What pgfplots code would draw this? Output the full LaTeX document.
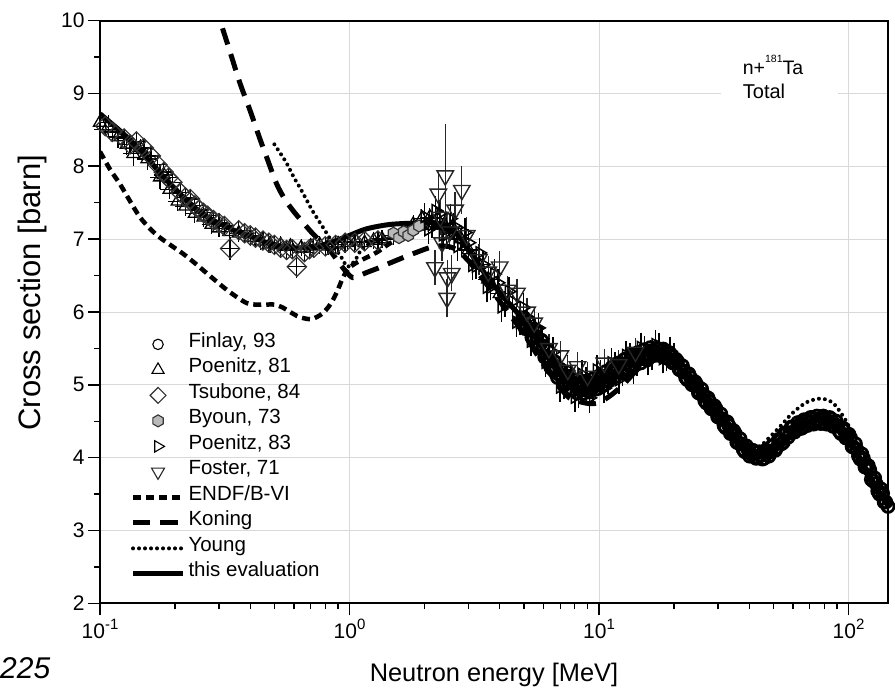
\documentclass[border=0pt]{standalone}
\usepackage{fontspec}
\setmainfont{Liberation Sans}
\usepackage{pgfplots}
\usepackage{pgfplotstable}
\pgfplotsset{compat=1.18}

\newcommand{\tsup}[1]{\raisebox{9pt}{\fontsize{15}{15}\selectfont #1}}
\newcommand{\asup}[1]{\raisebox{12pt}{\fontsize{10.5}{11}\selectfont #1}}

\pgfdeclareplotmark{hexagon}{%
  \pgfpathmoveto{\pgfpointpolar{90}{\pgfplotmarksize}}%
  \pgfpathlineto{\pgfpointpolar{150}{\pgfplotmarksize}}%
  \pgfpathlineto{\pgfpointpolar{210}{\pgfplotmarksize}}%
  \pgfpathlineto{\pgfpointpolar{270}{\pgfplotmarksize}}%
  \pgfpathlineto{\pgfpointpolar{330}{\pgfplotmarksize}}%
  \pgfpathlineto{\pgfpointpolar{30}{\pgfplotmarksize}}%
  \pgfpathclose\pgfusepathqfillstroke}

\pgfplotsset{legmark/.style={legend image code/.code={\draw[mark repeat=2,mark phase=2,##1,mark size=#1,line width=1.1pt] plot coordinates {(0pt,0pt) (25pt,0pt) (50pt,0pt)};}}}

\pgfplotstableread{
E s
0.100 8.72
0.110 8.60
0.120 8.49
0.130 8.38
0.145 8.22
0.155 8.10
0.165 8.00
0.175 7.90
0.185 7.81
0.200 7.69
0.215 7.58
0.230 7.49
0.250 7.38
0.270 7.30
0.294 7.23
0.320 7.17
0.350 7.11
0.380 7.07
0.420 7.01
0.466 6.95
0.520 6.91
0.600 6.88
0.700 6.89
0.800 6.93
0.900 6.99
1.000 7.05
1.170 7.14
1.450 7.20
1.870 7.22
2.240 7.22
2.500 7.16
2.770 7.02
3.100 6.78
3.600 6.46
4.200 6.18
5.000 5.88
5.800 5.55
6.800 5.19
7.850 4.99
8.700 4.96
10.00 5.04
11.80 5.20
13.60 5.33
16.00 5.43
17.50 5.46
19.00 5.42
21.00 5.24
24.00 5.02
28.60 4.69
33.00 4.41
39.00 4.09
42.00 4.04
45.00 4.02
50.00 4.08
53.00 4.19
57.00 4.30
62.00 4.40
68.00 4.48
74.00 4.51
80.00 4.52
86.00 4.49
92.00 4.42
99.00 4.30
106.0 4.12
114.0 3.93
124.0 3.70
134.0 3.51
144.0 3.33
}\evaltab

\pgfplotstableread{
E s
0.500 8.30
0.530 8.17
0.560 8.04
0.600 7.84
0.632 7.71
0.670 7.55
0.710 7.39
0.760 7.23
0.810 7.08
0.850 6.96
0.890 6.84
0.940 6.72
0.980 6.62
1.050 6.70
1.150 6.90
1.500 7.05
2.000 7.15
2.500 7.12
3.000 6.88
3.600 6.46
4.200 6.18
5.000 5.88
5.800 5.55
6.800 5.19
7.850 5.00
8.700 4.97
10.00 5.04
11.80 5.20
13.60 5.33
16.00 5.43
17.50 5.46
19.00 5.42
21.00 5.24
24.00 5.02
28.60 4.69
33.00 4.41
39.00 4.10
42.00 4.08
44.00 4.14
48.00 4.27
53.00 4.42
59.60 4.61
68.00 4.76
77.50 4.81
86.70 4.75
95.50 4.56
100.0 4.44
106.0 4.22
114.0 3.96
124.0 3.72
134.0 3.52
144.0 3.33
}\youngtab

\pgfplotstableread{
E s
0.100 8.20
0.110 7.95
0.120 7.76
0.132 7.52
0.1446 7.30
0.160 7.13
0.174 7.02
0.195 6.90
0.215 6.80
0.240 6.67
0.268 6.53
0.295 6.41
0.323 6.30
0.355 6.20
0.388 6.12
0.420 6.10
0.460 6.10
0.500 6.10
0.540 6.06
0.577 6.00
0.630 5.93
0.695 5.90
0.740 5.93
0.780 5.98
0.820 6.06
0.860 6.17
0.900 6.31
0.930 6.43
0.965 6.54
1.000 6.61
1.060 6.67
1.130 6.72
1.290 6.82
1.450 6.94
1.700 7.06
2.000 7.15
2.400 7.15
2.800 7.00
3.100 6.78
3.600 6.46
4.200 6.18
5.000 5.88
5.800 5.55
6.800 5.19
7.850 4.99
8.700 4.96
10.00 5.04
11.80 5.20
13.60 5.33
16.00 5.43
17.50 5.46
20.00 5.35
}\endftab

\pgfplotstableread{
E s
0.290 10.25
0.303 10.00
0.330 9.60
0.364 9.14
0.400 8.76
0.437 8.38
0.466 8.12
0.510 7.76
0.550 7.55
0.594 7.39
0.650 7.23
0.710 7.08
0.770 6.96
0.836 6.84
0.910 6.67
0.970 6.55
1.030 6.47
1.100 6.50
1.170 6.54
1.300 6.60
1.450 6.67
1.800 6.80
2.200 6.90
2.600 6.88
3.000 6.70
3.600 6.35
4.200 6.05
5.000 5.70
5.800 5.35
6.800 5.02
7.600 4.82
8.800 4.75
9.500 4.74
10.20 4.77
11.20 4.86
12.50 5.00
14.00 5.18
16.00 5.35
18.00 5.42
20.00 5.35
}\koningtab

\pgfplotstableread{
E s
5.000 5.92
5.150 5.79
5.305 5.77
5.464 5.65
5.628 5.66
5.796 5.55
5.970 5.53
6.149 5.39
6.334 5.36
6.524 5.22
6.720 5.23
6.921 5.14
7.129 5.13
7.343 5.02
7.563 5.03
7.790 4.94
8.024 5.01
8.264 4.95
8.512 5.00
8.768 4.93
9.031 4.98
9.301 4.94
9.580 5.03
9.868 5.02
10.16 5.09
10.47 5.05
10.78 5.12
11.11 5.09
11.44 5.20
11.78 5.19
12.14 5.27
12.50 5.22
12.87 5.29
13.26 5.26
13.66 5.37
14.07 5.34
14.49 5.41
14.92 5.36
15.37 5.42
15.83 5.37
16.31 5.47
16.80 5.44
17.30 5.49
17.82 5.41
18.35 5.44
18.90 5.36
19.47 5.40
20.05 5.31
20.65 5.32
21.27 5.20
21.91 5.19
22.57 5.07
23.25 5.10
23.94 5.01
24.66 5.00
25.40 4.88
26.16 4.87
26.95 4.75
27.76 4.77
28.59 4.68
29.45 4.67
30.33 4.55
31.24 4.53
32.18 4.41
33.14 4.44
34.14 4.34
35.16 4.33
36.22 4.20
37.30 4.19
38.42 4.08
39.58 4.11
40.76 4.05
41.99 4.08
43.25 4.00
44.54 4.03
45.88 3.99
47.26 4.08
48.67 4.08
50.13 4.17
51.64 4.14
53.19 4.23
54.78 4.21
56.42 4.34
58.12 4.34
59.86 4.42
61.66 4.38
63.51 4.45
65.41 4.41
67.38 4.51
69.40 4.48
71.48 4.55
73.63 4.48
75.84 4.53
78.11 4.47
80.46 4.54
82.87 4.50
85.36 4.53
87.92 4.43
90.56 4.44
93.27 4.33
96.07 4.37
98.95 4.29
101.9 4.27
105.0 4.14
108.1 4.11
111.4 3.98
114.7 3.99
118.2 3.87
121.7 3.83
125.4 3.68
129.1 3.64
133.0 3.50
137.0 3.51
141.1 3.39
144.0 3.33
5.074 5.77
5.227 5.87
5.384 5.65
5.545 5.75
5.712 5.52
5.882 5.61
6.059 5.38
6.241 5.47
6.428 5.23
6.621 5.32
6.820 5.10
7.024 5.20
7.235 4.99
7.452 5.12
7.676 4.93
7.906 5.07
8.143 4.89
8.387 5.04
8.639 4.88
8.899 5.05
9.166 4.90
9.440 5.08
9.723 4.94
10.01 5.12
10.31 4.99
10.63 5.18
10.94 5.05
11.28 5.24
11.61 5.11
11.96 5.30
12.32 5.16
12.69 5.35
13.06 5.22
13.46 5.41
13.86 5.27
14.28 5.44
14.71 5.30
15.14 5.48
15.60 5.34
16.07 5.51
16.55 5.40
17.05 5.50
17.56 5.40
18.09 5.49
18.62 5.37
19.18 5.44
19.76 5.30
20.35 5.35
20.96 5.21
21.59 5.26
22.24 5.10
22.91 5.15
23.60 5.00
24.30 5.04
25.03 4.89
25.78 4.94
26.55 4.78
27.35 4.82
28.17 4.67
29.02 4.71
29.89 4.56
30.78 4.60
31.71 4.44
32.66 4.49
33.63 4.33
34.65 4.37
35.68 4.21
36.76 4.26
37.86 4.11
38.99 4.16
40.17 4.02
41.37 4.10
42.62 3.99
43.89 4.08
45.20 3.98
46.56 4.10
47.96 4.02
49.40 4.16
50.88 4.10
52.41 4.25
53.98 4.19
55.60 4.34
57.26 4.28
58.99 4.42
60.75 4.35
62.58 4.48
64.46 4.40
66.38 4.52
68.38 4.44
70.43 4.55
72.54 4.46
74.73 4.57
76.97 4.47
79.27 4.57
81.66 4.46
84.10 4.55
86.63 4.43
89.23 4.50
91.91 4.36
94.66 4.41
97.50 4.27
100.4 4.32
103.4 4.15
106.6 4.19
109.7 4.02
113.1 4.05
116.4 3.87
120.0 3.89
123.5 3.70
127.3 3.72
131.0 3.54
135.0 3.57
139.0 3.39
}\finlaytab

\pgfplotstableread{
E s e
0.100 8.60 0.10
0.108 8.55 0.08
0.118 8.40 0.08
0.128 8.30 0.08
0.136 8.17 0.10
0.145 8.25 0.06
0.155 8.10 0.08
0.174 7.85 0.10
0.180 7.88 0.06
0.190 7.68 0.06
0.205 7.52 0.06
0.220 7.45 0.07
0.240 7.35 0.06
0.260 7.30 0.06
0.280 7.20 0.06
0.300 7.15 0.05
0.330 7.10 0.05
0.360 7.08 0.05
0.400 7.02 0.05
0.440 6.97 0.05
0.480 6.93 0.05
0.530 6.92 0.05
0.580 6.90 0.05
0.640 6.88 0.05
0.700 6.90 0.05
0.760 6.92 0.05
0.820 6.90 0.05
0.900 6.93 0.05
0.980 6.95 0.05
1.060 6.97 0.05
1.150 6.95 0.05
1.250 6.98 0.05
1.350 7.00 0.05
1.500 7.05 0.06
1.650 7.12 0.06
1.800 7.20 0.06
1.950 7.28 0.06
2.100 7.30 0.06
2.250 7.28 0.07
2.400 7.20 0.07
2.600 7.15 0.08
2.800 7.00 0.08
3.000 6.85 0.08
3.300 6.65 0.08
3.600 6.45 0.08
4.000 6.25 0.08
}\poenAtab

\pgfplotstableread{
E s e
0.105 8.55 0.08
0.112 8.47 0.08
0.125 8.38 0.08
0.132 8.30 0.08
0.140 8.34 0.08
0.150 8.25 0.08
0.160 8.14 0.08
0.170 8.02 0.08
0.180 7.92 0.08
0.188 7.84 0.08
0.195 7.78 0.08
0.210 7.64 0.08
0.220 7.57 0.08
0.230 7.55 0.08
0.240 7.46 0.08
0.250 7.40 0.08
0.260 7.36 0.08
0.270 7.32 0.08
0.285 7.26 0.08
0.300 7.22 0.08
0.315 7.18 0.08
0.332 6.87 0.10
0.360 7.12 0.08
0.380 7.08 0.08
0.400 7.05 0.08
0.420 7.02 0.08
0.450 6.98 0.08
0.475 6.95 0.08
0.500 6.92 0.08
0.530 6.88 0.08
0.560 6.85 0.08
0.590 6.86 0.08
0.615 6.62 0.10
0.660 6.82 0.08
0.690 6.86 0.08
0.720 6.88 0.08
0.800 6.90 0.08
0.880 6.92 0.08
0.960 6.95 0.08
1.050 6.95 0.08
1.150 6.97 0.08
1.300 6.98 0.08
}\tsubtab

\pgfplotstableread{
E s
1.50 7.08
1.58 7.02
1.65 7.10
1.72 7.05
1.80 7.12
1.90 7.18
}\byountab

\pgfplotstableread{
E s e
2.000 7.31 0.10
2.140 7.20 0.10
2.290 7.35 0.10
2.450 7.06 0.10
2.622 7.18 0.10
2.805 6.94 0.10
3.001 6.95 0.10
3.211 6.63 0.10
3.436 6.65 0.10
3.677 6.34 0.10
3.934 6.40 0.10
4.209 6.11 0.10
4.504 6.14 0.10
4.819 5.86 0.10
5.157 5.90 0.10
5.518 5.61 0.10
5.904 5.63 0.10
6.317 5.31 0.10
6.759 5.29 0.10
7.232 4.98 0.10
7.739 5.09 0.10
8.281 4.87 0.10
8.860 5.06 0.10
9.481 4.92 0.10
10.14 5.16 0.10
10.85 5.05 0.10
11.61 5.27 0.10
12.43 5.16 0.10
13.30 5.39 0.10
14.23 5.30 0.10
15.22 5.49 0.10
16.29 5.39 0.10
17.43 5.53 0.10
18.65 5.37 0.10
19.96 5.39 0.10
2.069 7.13 0.12
2.214 7.39 0.12
2.369 7.06 0.12
2.535 7.28 0.12
2.712 6.90 0.12
2.902 7.09 0.12
3.105 6.64 0.12
3.322 6.81 0.12
3.555 6.34 0.12
3.804 6.52 0.12
4.070 6.07 0.12
4.355 6.28 0.12
4.660 5.86 0.12
4.986 6.06 0.12
5.335 5.60 0.12
5.709 5.78 0.12
6.109 5.31 0.12
6.536 5.45 0.12
6.993 4.97 0.12
7.483 5.20 0.12
8.007 4.83 0.12
8.567 5.14 0.12
9.166 4.82 0.12
9.807 5.20 0.12
10.49 4.95 0.12
11.23 5.30 0.12
12.01 5.07 0.12
12.86 5.40 0.12
13.76 5.21 0.12
14.72 5.51 0.12
15.75 5.33 0.12
16.85 5.55 0.12
18.03 5.36 0.12
19.29 5.46 0.12
}\poenBtab

\pgfplotstableread{
E s e
2.20 6.61 0.15
2.27 7.62 0.20
2.31 7.30 0.15
2.35 6.95 0.15
2.42 7.87 0.62
2.46 6.19 0.17
2.47 6.47 0.15
2.52 7.10 0.15
2.57 6.53 0.15
2.65 7.40 0.15
2.82 7.67 0.23
2.95 7.05 0.15
3.30 6.72 0.12
3.60 6.55 0.12
4.00 6.62 0.12
4.30 6.30 0.10
4.69 6.26 0.10
5.15 6.00 0.10
5.50 5.85 0.10
6.30 5.50 0.10
7.00 5.40 0.10
7.50 5.20 0.10
8.20 5.25 0.10
9.00 5.12 0.10
10.5 5.30 0.10
12.0 5.28 0.10
14.0 5.45 0.10
}\fostertab

\begin{document}
\begin{tikzpicture}
\useasboundingbox (0,0) rectangle (895pt,694pt);
\begin{axis}[
  at={(100pt,90.7pt)}, anchor=south west,
  scale only axis, width=788pt, height=582.8pt,
  xmode=log, xmin=0.1, xmax=144, ymin=2, ymax=10,
  xtick={0.1,1,10,100},
  xticklabels={10\tsup{-1},10\tsup{0},10\tsup{1},10\tsup{2}},
  minor xtick={0.2,0.3,0.4,0.5,0.6,0.7,0.8,0.9,2,3,4,5,6,7,8,9,20,30,40,50,60,70,80,90},
  ytick={2,3,4,5,6,7,8,9,10},
  minor ytick={2.5,3.5,4.5,5.5,6.5,7.5,8.5,9.5},
  tick pos=left, tick align=outside,
  major tick length=12pt, minor tick length=6pt,
  every major tick/.append style={line width=1.5pt, black},
  every minor tick/.append style={line width=1.3pt, black},
  axis line style={line width=2pt},
  grid=major, major grid style={line width=0.8pt, gray!30},
  tick label style={font=\fontsize{21}{25}\selectfont},
  /pgf/number format/assume math mode=true,
  xlabel={Neutron energy [MeV]},
  ylabel={Cross section [barn]},
  xlabel style={font=\fontsize{25.4}{30}\selectfont, at={(axis description cs:0.5,-0.1338)}, anchor=base},
  ylabel style={font=\fontsize{31}{36}\selectfont, at={(axis description cs:-0.0761,0.533)}, anchor=base, rotate=0},
  legend image code/.code={\draw[mark repeat=2,mark phase=2,#1] plot coordinates {(0pt,0pt) (25pt,0pt) (50pt,0pt)};},
  legend cell align=left,
  legend style={at={(axis description cs:0.0385,0.4665)}, anchor=north west,
    draw=none, fill=none, inner sep=0pt, row sep=0pt,
    font=\fontsize{20.5}{24}\selectfont,
    nodes={inner xsep=3pt, inner ysep=0pt, text height=15.5pt, text depth=10pt}},
]
\fill[white] (rel axis cs:0.788,0.846) rectangle (rel axis cs:0.9365,0.949);
\node[anchor=base west, inner sep=0pt, font=\fontsize{19.5}{23}\selectfont] at (rel axis cs:0.8156,0.9077) {n+\asup{181}Ta};
\node[anchor=base west, inner sep=0pt, font=\fontsize{20}{23}\selectfont] at (rel axis cs:0.8156,0.8665) {Total};

\addplot[only marks, mark=o, mark size=6pt, line width=2.8pt, black, legmark=5.2pt] table[x=E,y=s] {\finlaytab};
\addlegendentry{Finlay, 93}
\addplot[only marks, mark=triangle, mark size=7.5pt, line width=1.3pt, black, legmark=7pt,
  error bars/y dir=both, error bars/y explicit, error bars/x dir=both, error bars/x fixed relative=0.045,
  error bars/error bar style={line width=1.2pt, black}, error bars/error mark options={black, mark size=5pt, line width=1.2pt}]
  table[x=E,y=s,y error=e] {\poenAtab};
\addlegendentry{Poenitz, 81}
\addplot[only marks, mark=square, mark size=6.8pt, line width=1.2pt, draw=gray!40!black, fill=gray!55, fill opacity=0.6,
  mark options={rotate=45}, legmark=5.6pt,
  error bars/y dir=both, error bars/y explicit, error bars/x dir=both, error bars/x fixed relative=0.05,
  error bars/error bar style={line width=1.2pt, black}, error bars/error mark options={black, mark size=4pt, line width=1.2pt}]
  table[x=E,y=s,y error=e] {\tsubtab};
\addlegendentry{Tsubone, 84}
\addplot[only marks, mark=hexagon, mark size=6pt, line width=1.2pt, draw=gray!40!black, fill=gray!55, legmark=6pt] table[x=E,y=s] {\byountab};
\addlegendentry{Byoun, 73}
\addplot[only marks, mark=triangle, mark size=7pt, line width=1.5pt, black, mark options={rotate=-90}, legmark=6.5pt,
  error bars/y dir=both, error bars/y explicit,
  error bars/error bar style={line width=1.5pt, black}, error bars/error mark options={black, mark size=6pt, line width=1.5pt}]
  table[x=E,y=s,y error=e] {\poenBtab};
\addlegendentry{Poenitz, 83}
\addplot[only marks, mark=triangle, mark size=9.5pt, line width=1.4pt, black!85, mark options={rotate=180}, legmark=7.5pt,
  error bars/y dir=both, error bars/y explicit,
  error bars/error bar style={line width=1.3pt, black!85}, error bars/error mark options={black!85, mark size=7pt, line width=1.3pt}]
  table[x=E,y=s,y error=e] {\fostertab};
\addlegendentry{Foster, 71}
\addplot[black, line width=4.5pt, dash pattern=on 8pt off 5pt, smooth, no marks] table[x=E,y=s] {\endftab};
\addlegendentry{ENDF/B-VI}
\addplot[black, line width=5pt, dash pattern=on 17pt off 10pt, smooth, no marks] table[x=E,y=s] {\koningtab};
\addlegendentry{Koning}
\addplot[black, line width=4pt, dash pattern=on 0pt off 6pt, line cap=round, smooth, no marks] table[x=E,y=s] {\youngtab};
\addlegendentry{Young}
\addplot[black, line width=5pt, smooth, no marks] table[x=E,y=s] {\evaltab};
\addlegendentry{this evaluation}
\end{axis}
\node[anchor=base west, inner sep=0pt, font=\fontsize{30}{36}\selectfont\itshape] at (0pt,15pt) {225};
\end{tikzpicture}
\end{document}
